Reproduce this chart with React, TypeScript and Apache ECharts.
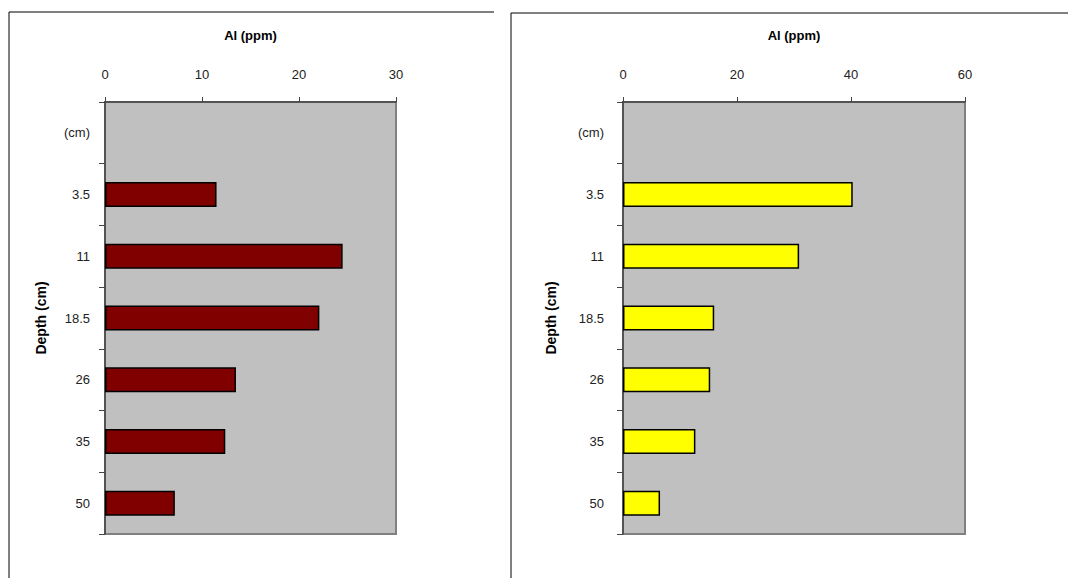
import React, { useEffect, useRef } from "react";
import * as echarts from "echarts";

const depthCategories = ["(cm)", "3.5", "11", "18.5", "26", "35", "50"];
const alLeft: (number | string)[] = ["-", 11.5, 24.5, 22.1, 13.5, 12.4, 7.2];
const alRight: (number | string)[] = ["-", 40.3, 30.9, 16.0, 15.3, 12.7, 6.5];
const xTitle = "Al (ppm)";
const yTitle = "Depth (cm)";

const FONT = "'Liberation Sans', Arial, sans-serif";

export default function App() {
  const ref = useRef<HTMLDivElement>(null);
  useEffect(() => {
    if (!ref.current) return;
    const chart = echarts.init(ref.current, null, { renderer: "svg" });
    const mkX = (gi: number, max: number, interval: number) => ({
      type: "value",
      gridIndex: gi,
      position: "top",
      min: 0,
      max,
      interval,
      name: xTitle,
      nameLocation: "middle",
      nameGap: 60,
      nameTextStyle: { fontFamily: FONT, fontSize: 13, fontWeight: "bold", color: "#000" },
      axisLine: { show: true, lineStyle: { color: "#444", width: 1.5 } },
      axisTick: { show: true, length: 5, lineStyle: { color: "#444" } },
      axisLabel: { fontFamily: FONT, fontSize: 13, color: "#222", margin: 21 },
      splitLine: { show: false },
    });
    const mkY = (gi: number, gap: number, margin: number) => ({
      type: "category",
      gridIndex: gi,
      inverse: true,
      data: depthCategories,
      name: yTitle,
      nameLocation: "middle",
      nameRotate: 90,
      nameGap: gap,
      nameTextStyle: { fontFamily: FONT, fontSize: 14, fontWeight: "bold", color: "#000" },
      axisLine: { show: true, lineStyle: { color: "#444", width: 1.5 } },
      axisTick: { show: true, length: 6, alignWithLabel: false, lineStyle: { color: "#444" } },
      axisLabel: { fontFamily: FONT, fontSize: 13, color: "#222", margin: margin },
      splitLine: { show: false },
    });
    chart.setOption({
      animation: false,
      backgroundColor: "#fff",
      grid: [
        { left: 105, top: 102, width: 291, height: 432, show: true, backgroundColor: "#C0C0C0", borderColor: "#808080", borderWidth: 2 },
        { left: 623, top: 102, width: 342, height: 432, show: true, backgroundColor: "#C0C0C0", borderColor: "#808080", borderWidth: 2 },
      ],
      xAxis: [mkX(0, 30, 10), mkX(1, 60, 20)],
      yAxis: [mkY(0, 57, 15), mkY(1, 65, 19)],
      series: [
        {
          type: "bar",
          xAxisIndex: 0,
          yAxisIndex: 0,
          data: alLeft,
          barWidth: 25,
          itemStyle: { color: "#800000", borderColor: "#000", borderWidth: 1.5 },
        },
        {
          type: "bar",
          xAxisIndex: 1,
          yAxisIndex: 1,
          data: alRight,
          barWidth: 25,
          itemStyle: { color: "#FFFF00", borderColor: "#000", borderWidth: 1.5 },
        },
      ],
      graphic: [
        { type: "line", shape: { x1: 9, y1: 12, x2: 494, y2: 12 }, style: { stroke: "#000", lineWidth: 1 } },
        { type: "line", shape: { x1: 9, y1: 12, x2: 9, y2: 578 }, style: { stroke: "#000", lineWidth: 1 } },
        { type: "line", shape: { x1: 511, y1: 13, x2: 1068, y2: 13 }, style: { stroke: "#000", lineWidth: 1 } },
        { type: "line", shape: { x1: 511, y1: 13, x2: 511, y2: 578 }, style: { stroke: "#000", lineWidth: 1 } },
      ],
    });
    return () => chart.dispose();
  }, []);
  return (
    <div
      ref={ref}
      style={{ position: "absolute", left: 0, top: 0, width: 1068, height: 578 }}
    />
  );
}
